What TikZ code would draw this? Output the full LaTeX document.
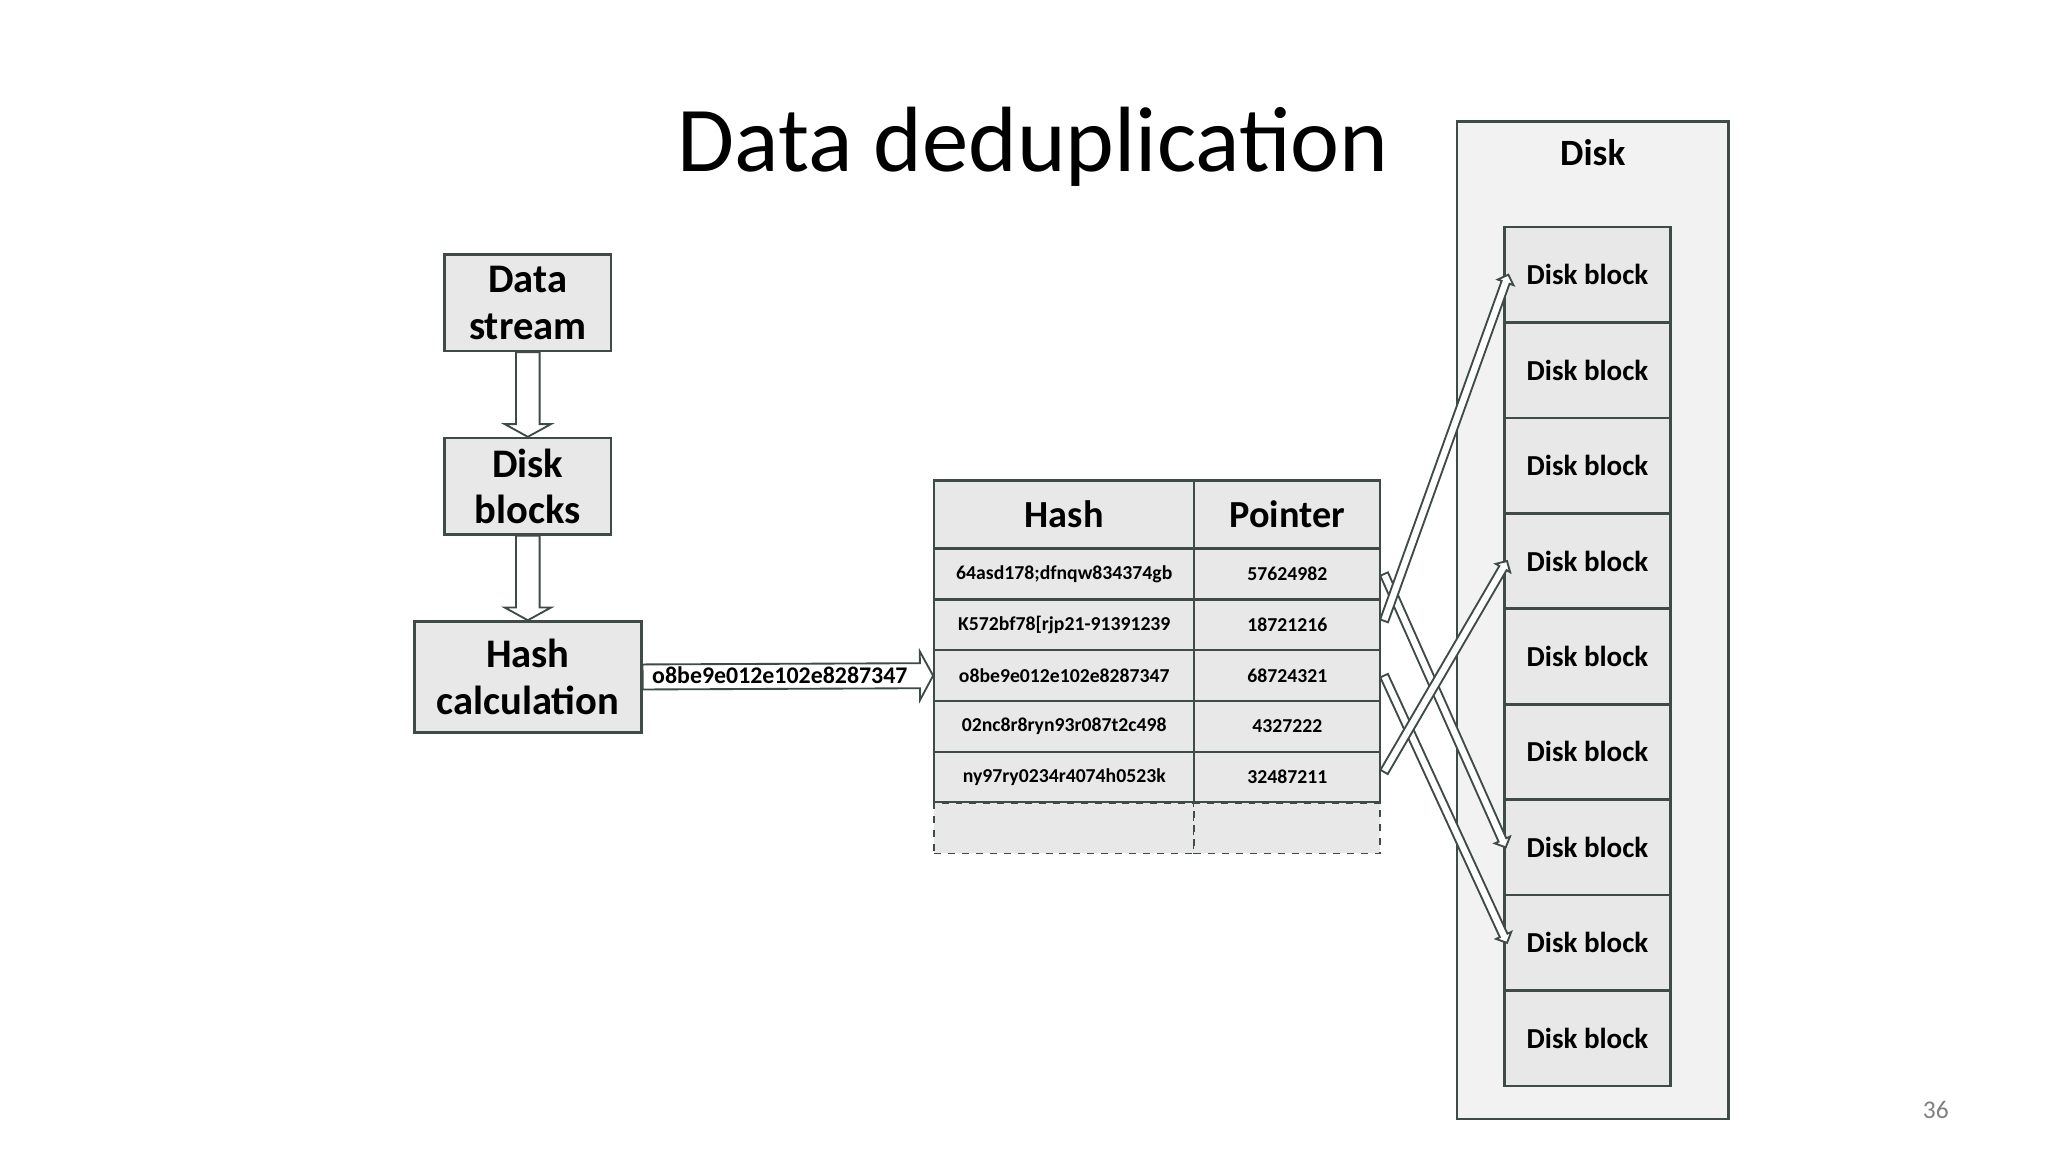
\documentclass[tikz,border=0pt]{standalone}
\usepackage{fontspec}
\setmainfont{Carlito}
\usetikzlibrary{calc}
\definecolor{bord}{HTML}{3E4B47}
\definecolor{cellfill}{HTML}{E8E8E8}
\definecolor{diskfill}{HTML}{F2F2F2}
\def\u{0.02cm}
\newcommand\hollowarrow[5]{% from, to, half width, head half width, head length
  \coordinate (ha-C) at ($(#2)!#5!(#1)$);
  \draw[bord,line width=0.8pt,fill=white,line join=miter]
    ($(#1)!#3!90:(#2)$) -- ($(ha-C)!#3!90:(#2)$) -- ($(ha-C)!#4!90:(#2)$) -- (#2)
    -- ($(ha-C)!#4!-90:(#2)$) -- ($(ha-C)!#3!-90:(#2)$) -- ($(#1)!#3!-90:(#2)$) -- cycle;}
\begin{document}
\begin{tikzpicture}[x=0.02cm,y=-0.02cm,
  box/.style={draw=bord,line width=1.1pt,fill=cellfill,font=\bfseries\fontsize{17.5}{20}\selectfont,align=center,inner sep=0pt},
  cell/.style={draw=bord,line width=1pt,fill=cellfill,inner sep=0pt,minimum height=38.5*\u,font=\bfseries\fontsize{8.5}{10}\selectfont},
  dcell/.style={cell,dashed,draw=bord,line width=0.8pt},
  blk/.style={draw=bord,line width=1.1pt,fill=cellfill,inner sep=0pt,minimum width=126*\u,minimum height=72.3*\u,font=\bfseries\fontsize{12.5}{14}\selectfont}]
\useasboundingbox (0,0) rectangle (1552,873);
\fill[white] (0,0) rectangle (1552,873);
\node (title) at (783,111) {\fontsize{40}{46}\selectfont Data deduplication};
\node[text=gray] (pg) at (1467,841) {\fontsize{11}{13}\selectfont 36};

% left boxes
\node[box,minimum width=126*\u,minimum height=73*\u] (ds) at (400,229.5) {Data\\stream};
\node[box,minimum width=126*\u,minimum height=73*\u] (db) at (400,368.5) {Disk\\blocks};
\node[box,minimum width=172*\u,minimum height=84*\u] (hc) at (400,513) {Hash\\calculation};

% table
\node[cell,minimum width=197*\u,minimum height=52*\u,font=\bfseries\fontsize{16.5}{18}\selectfont] (hh) at (806.5,390) {Hash};
\node[cell,minimum width=141*\u,minimum height=52*\u,font=\bfseries\fontsize{16.5}{18}\selectfont] (hp) at (975.5,390) {Pointer};
\foreach \i/\h/\p/\y in {1/64asd178;dfnqw834374gb/57624982/435,2/K572bf78[rjp21-91391239/18721216/473.5,3/o8be9e012e102e8287347/68724321/512,4/02nc8r8ryn93r087t2c498/4327222/550.5,5/ny97ry0234r4074h0523k/32487211/589}{
  \node[cell,minimum width=197*\u] (rh\i) at (806.5,\y) {\h};
  \node[cell,minimum width=141*\u] (rp\i) at (975.5,\y) {\p};
}
\node[dcell,minimum width=197*\u] (rh6) at (806.5,627.5) {};
\node[dcell,minimum width=141*\u] (rp6) at (975.5,627.5) {};

% disk
\node[draw=bord,line width=1.1pt,fill=diskfill,minimum width=206*\u,minimum height=756*\u,inner sep=0pt] (disk) at (1207,470) {};
\node[font=\bfseries\fontsize{16}{18}\selectfont] (dl) at (1207,116) {Disk};
\foreach \i in {1,...,9}{
  \node[blk] (b\i) at (1203,{172+72.33*(\i-0.5)}) {Disk block};
}

% vertical arrows
\hollowarrow{ds.south}{db.north}{5.1pt}{10pt}{5.5pt}
\hollowarrow{db.south}{hc.north}{5.1pt}{10pt}{5.5pt}
% horizontal arrow
\coordinate (tin) at (rh3.west);
\hollowarrow{hc.east}{tin}{5.4pt}{10.5pt}{5.7pt}
\node[font=\bfseries\fontsize{10.3}{12}\selectfont,inner sep=0pt] (lab) at (591,512) {o8be9e012e102e8287347};

% pointer arrows
\coordinate (s1) at ($(rp1.east)+(2,0)$);
\coordinate (s2) at ($(rp2.east)+(2,-3)$);
\coordinate (s3) at ($(rp3.east)+(2,0)$);
\coordinate (s5) at ($(rp5.east)+(2,-4)$);
\coordinate (e1) at ($(b1.west)+(4,0)$);
\coordinate (e4) at ($(b4.west)+(3,0)$);
\coordinate (e7) at ($(b7.west)+(2,0)$);
\coordinate (e8) at ($(b8.west)+(3,0)$);
\hollowarrow{s1}{e7}{1.8pt}{3.6pt}{3.5pt}
\hollowarrow{s3}{e8}{1.8pt}{3.6pt}{3.5pt}
\hollowarrow{s2}{e1}{1.8pt}{3.6pt}{3.5pt}
\hollowarrow{s5}{e4}{1.8pt}{3.6pt}{3.5pt}
\end{tikzpicture}
\end{document}
